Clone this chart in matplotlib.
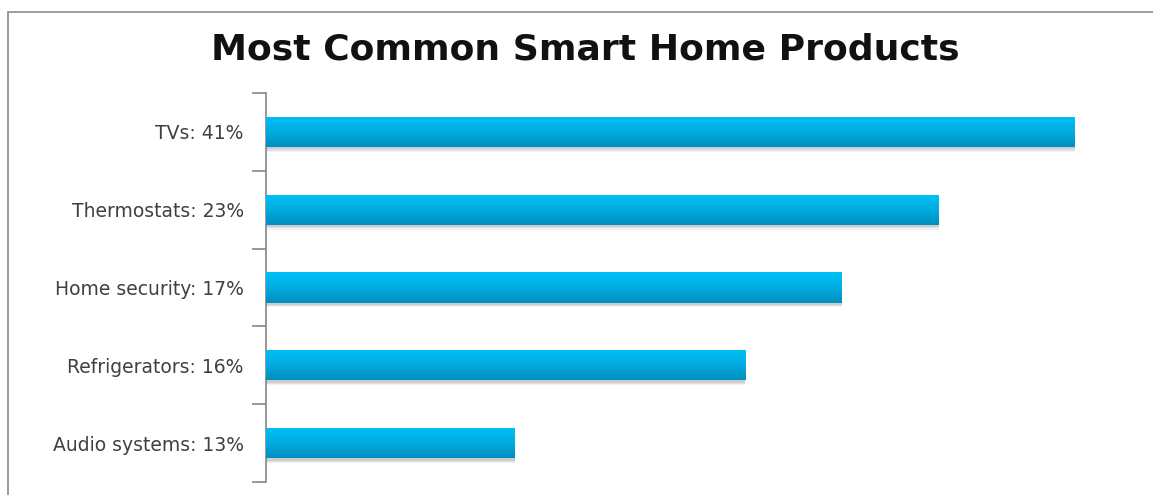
import numpy as np
import matplotlib.pyplot as plt
from matplotlib.colors import LinearSegmentedColormap
from matplotlib.patches import Rectangle

# chart data (bar lengths, labels as shown)
products = ['TVs', 'Thermostats', 'Home security', 'Refrigerators', 'Audio systems']
shares = [41, 23, 17, 16, 13]
bar_lengths = [41, 34.1, 29.2, 24.3, 12.6]

labels = [f'{p}: {s}%' for p, s in zip(products, shares)]

fig = plt.figure(figsize=(11.53, 4.95), dpi=100)
ax = fig.add_axes([266 / 1153, 1 - 482 / 495, (1130 - 266) / 1153, (482 - 93) / 495])

# outer chart border (only left and top edges visible)
fig.add_artist(Rectangle((8 / 1153, -0.1), 1.2, 1 - 12 / 495 + 0.1,
                         transform=fig.transFigure, fill=False,
                         edgecolor='#8c8c8c', linewidth=1.2))

y = np.arange(len(products))
h = 0.39

# soft shadow under each bar
for off, a in [(0.06, 0.10), (0.045, 0.15), (0.03, 0.2)]:
    ax.barh(y + off, bar_lengths, height=h, color='#808080', alpha=a, zorder=1, linewidth=0)

bars = ax.barh(y, bar_lengths, height=h, color='#00A8DC', zorder=2, linewidth=0)

# vertical gradient inside each bar
cmap = LinearSegmentedColormap.from_list('blue', ['#00C0F8', '#00ACE0', '#008FBF'])
grad = np.linspace(0, 1, 100).reshape(-1, 1)
for b in bars:
    x0, y0 = b.get_x(), b.get_y()
    im = ax.imshow(grad, cmap=cmap, aspect='auto', zorder=3,
                   extent=(x0, x0 + b.get_width(), y0 + b.get_height(), y0))
    im.set_clip_path(b)

ax.set_xlim(0, 43.8)
ax.set_ylim(len(products) - 0.5, -0.5)

for s in ['top', 'right', 'bottom']:
    ax.spines[s].set_visible(False)
ax.spines['left'].set_color('#868686')
ax.spines['left'].set_linewidth(1.2)

ax.set_xticks([])
ax.set_yticks(y)
ax.set_yticklabels(labels, fontsize=13.5, color='#404040')
ax.tick_params(axis='y', which='major', length=0, pad=16)
ax.set_yticks(np.arange(-0.5, len(products)), minor=True)
ax.tick_params(axis='y', which='minor', length=10, width=1.2, color='#868686')

fig.text(585 / 1153, 1 - 50 / 495, 'Most Common Smart Home Products',
         ha='center', va='center', fontsize=26, fontweight='bold', color='#111111')

fig.savefig('out.png', dpi=100)
